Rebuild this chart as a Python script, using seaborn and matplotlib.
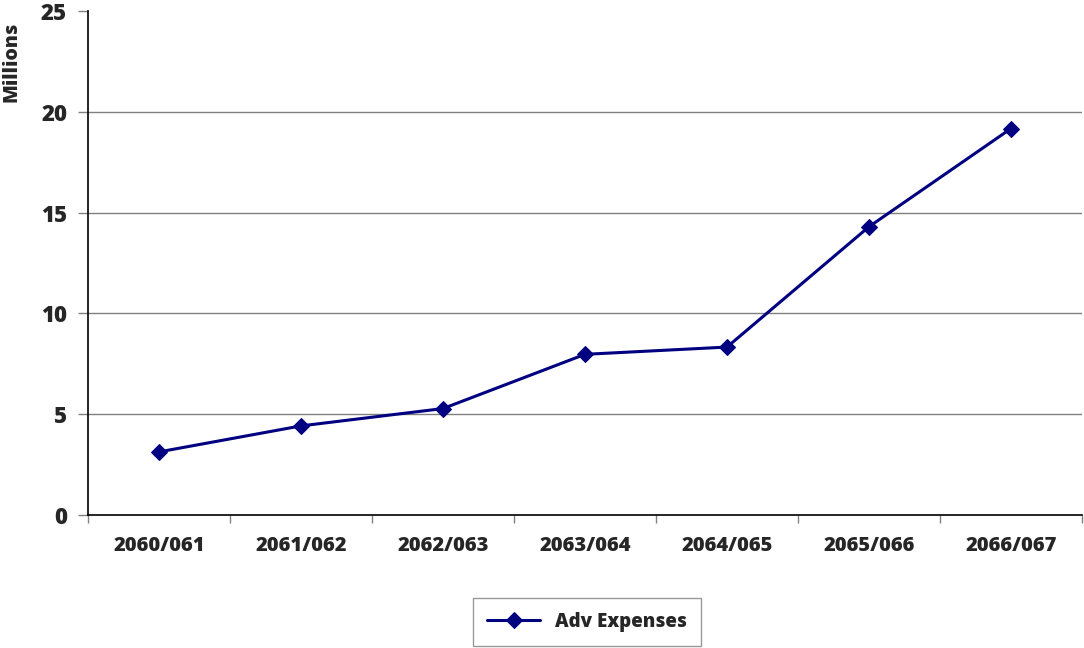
import matplotlib
matplotlib.use("Agg")
import matplotlib.pyplot as plt
import seaborn as sns
import pandas as pd
import numpy as np
from matplotlib.ticker import FixedLocator

years = ["2060/061", "2061/062", "2062/063", "2063/064", "2064/065", "2065/066", "2066/067"]
adv_expenses = [3.13, 4.42, 5.28, 7.97, 8.33, 14.3, 19.17]
y_ticks = [0, 5, 10, 15, 20, 25]

sns.set_theme(style="white")
plt.rcParams["font.family"] = ["Open Sans", "DejaVu Sans"]

df = pd.DataFrame({"pos": np.arange(len(years)), "value": adv_expenses})

fig = plt.figure(figsize=(10.84, 6.48), dpi=100)
ax = fig.add_axes([88 / 1084, 1 - 515 / 648, (1082 - 88) / 1084, (515 - 11) / 648])

sns.lineplot(data=df, x="pos", y="value", ax=ax, color="#000080", linewidth=2.2,
             marker="D", markersize=8, markeredgecolor="#000080",
             label="Adv Expenses")

W = "extra bold"
ax.set_xlim(-0.5, len(years) - 0.5)
ax.set_ylim(0, 25)
ax.set_xticks(np.arange(len(years)))
ax.set_xticklabels(years, fontsize=14.5, fontweight=W)
ax.xaxis.set_minor_locator(FixedLocator(np.arange(len(years) + 1) - 0.5))
ax.tick_params(axis="x", which="major", length=0, pad=15)
ax.tick_params(axis="x", which="minor", length=6, color="#808080", width=1, bottom=True)
ax.set_yticks(y_ticks)
ax.set_yticklabels([str(v) for v in y_ticks], fontsize=16, fontweight=W)
ax.tick_params(axis="y", length=7, color="#808080", width=1, left=True, pad=8)

ax.yaxis.grid(True, color="#808080", linewidth=1)
ax.set_axisbelow(True)
ax.get_ygridlines()[-1].set_visible(False)
ax.get_ygridlines()[0].set_visible(False)

for side in ["top", "right"]:
    ax.spines[side].set_visible(False)
for side in ["left", "bottom"]:
    ax.spines[side].set_color("black")
    ax.spines[side].set_linewidth(1.2)

ax.set_xlabel("")
ax.set_ylabel("Millions", fontsize=14, fontweight=W)
ax.yaxis.set_label_coords(-66 / 994, 0.90)

leg = ax.legend(loc="center", bbox_to_anchor=(587 / 1084, 1 - 622 / 648),
                bbox_transform=fig.transFigure, frameon=True, fancybox=False,
                prop={"size": 13.5, "weight": W}, handlelength=2.8,
                borderpad=0.75, borderaxespad=0)
leg.get_frame().set_edgecolor("#808080")
leg.get_frame().set_linewidth(1)

fig.savefig("out.png", dpi=100)
